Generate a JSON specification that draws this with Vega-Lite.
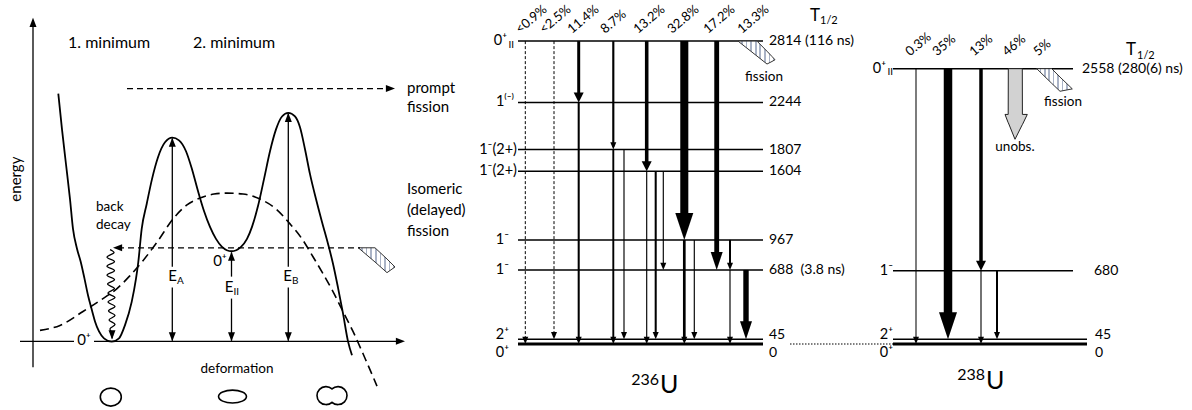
{
  "$schema": "https://vega.github.io/schema/vega-lite/v6.json",
  "width": 1192,
  "height": 410,
  "autosize": {"type": "fit", "contains": "padding"},
  "padding": 0,
  "background": "#ffffff",
  "config": {"view": {"stroke": null}, "font": "Lato"},
  "encoding": {
    "x": {"field": "x", "type": "quantitative", "scale": {"domain": [0, 1192], "nice": false, "zero": false}, "axis": null},
    "y": {"field": "E", "type": "quantitative", "scale": {"domain": [-594.4, 3196], "nice": false, "zero": false}, "axis": null}
  },
  "datasets": {
    "levels": [
      {"x": 518, "x2": 763, "E": 2814}, {"x": 518, "x2": 763, "E": 2244}, {"x": 518, "x2": 763, "E": 1807},
      {"x": 518, "x2": 763, "E": 1604}, {"x": 518, "x2": 763, "E": 967}, {"x": 518, "x2": 763, "E": 688},
      {"x": 518, "x2": 763, "E": 45}, {"x": 518, "x2": 763, "E": 0},
      {"x": 893, "x2": 1073, "E": 2558}, {"x": 893, "x2": 1073, "E": 680},
      {"x": 893, "x2": 1087, "E": 45}, {"x": 893, "x2": 1087, "E": 0}
    ],
    "gammas": [
      {"x": 525.3, "E": 2814, "E2": 0, "I": 0.9, "limit": "upper"},
      {"x": 554, "E": 2814, "E2": 45, "I": 2.5, "limit": "upper"},
      {"x": 578.7, "E": 2814, "E2": 2244, "I": 11.4, "limit": "none"},
      {"x": 578.7, "E": 2244, "E2": 0, "I": 8, "limit": "none"},
      {"x": 613.3, "E": 2814, "E2": 1807, "I": 8.7, "limit": "none"},
      {"x": 613.3, "E": 1807, "E2": 0, "I": 7, "limit": "none"},
      {"x": 624, "E": 1807, "E2": 45, "I": 1.5, "limit": "none"},
      {"x": 646.7, "E": 2814, "E2": 1604, "I": 13.2, "limit": "none"},
      {"x": 646.7, "E": 1604, "E2": 0, "I": 1.5, "limit": "none"},
      {"x": 655.7, "E": 1604, "E2": 45, "I": 8, "limit": "none"},
      {"x": 663.3, "E": 1604, "E2": 688, "I": 1.5, "limit": "none"},
      {"x": 684.3, "E": 2814, "E2": 967, "I": 32.8, "limit": "none"},
      {"x": 684.3, "E": 967, "E2": 0, "I": 10.5, "limit": "none"},
      {"x": 694.3, "E": 967, "E2": 45, "I": 1.5, "limit": "none"},
      {"x": 716.7, "E": 2814, "E2": 688, "I": 17.2, "limit": "none"},
      {"x": 730, "E": 967, "E2": 688, "I": 8, "limit": "none"},
      {"x": 730, "E": 688, "E2": 0, "I": 1.5, "limit": "none"},
      {"x": 746, "E": 688, "E2": 45, "I": 20, "limit": "none"},
      {"x": 916, "E": 2558, "E2": 0, "I": 0.3, "limit": "none"},
      {"x": 948, "E": 2558, "E2": 45, "I": 35, "limit": "none"},
      {"x": 981, "E": 2558, "E2": 680, "I": 13, "limit": "none"},
      {"x": 981, "E": 680, "E2": 0, "I": 1, "limit": "none"},
      {"x": 997, "E": 680, "E2": 45, "I": 8, "limit": "none"}
    ],
    "hatch": [
      {"g": "isomer", "x": 358.3, "E": 894, "E2": 894},
      {"g": "isomer", "x": 375, "E": 894, "E2": 762},
      {"g": "isomer", "x": 387, "E": 790, "E2": 663},
      {"g": "isomer", "x": 392, "E": 743, "E2": 696},
      {"g": "isomer", "x": 395, "E": 716, "E2": 716},
      {"g": "U236", "x": 738, "E": 2814, "E2": 2814},
      {"g": "U236", "x": 757, "E": 2814, "E2": 2675},
      {"g": "U236", "x": 767, "E": 2720, "E2": 2601},
      {"g": "U236", "x": 772, "E": 2671, "E2": 2625},
      {"g": "U236", "x": 775, "E": 2641, "E2": 2641},
      {"g": "U238", "x": 1036.7, "E": 2558, "E2": 2558},
      {"g": "U238", "x": 1051.7, "E": 2558, "E2": 2422},
      {"g": "U238", "x": 1060, "E": 2480, "E2": 2348},
      {"g": "U238", "x": 1070, "E": 2391, "E2": 2366},
      {"g": "U238", "x": 1072.3, "E": 2370, "E2": 2370}
    ],
    "unobs": [
      {"x": 1005, "E": 2133, "E2": 2133},
      {"x": 1008.2, "E": 2133, "E2": 2056},
      {"x": 1008.3, "E": 2558, "E2": 2056},
      {"x": 1015, "E": 2558, "E2": 1902},
      {"x": 1022.3, "E": 2558, "E2": 2038},
      {"x": 1022.4, "E": 2133, "E2": 2038},
      {"x": 1027.3, "E": 2133, "E2": 2133}
    ],
    "pes": [
      {"x": 58.3, "E": 2327}, {"x": 62, "E": 1994}, {"x": 66, "E": 1670}, {"x": 70, "E": 1347},
      {"x": 73, "E": 1070}, {"x": 77, "E": 885}, {"x": 80.7, "E": 764}, {"x": 84.5, "E": 607},
      {"x": 88, "E": 453}, {"x": 92, "E": 311}, {"x": 95, "E": 210}, {"x": 99, "E": 117},
      {"x": 104, "E": 53}, {"x": 111.7, "E": 22}, {"x": 119, "E": 53}, {"x": 125, "E": 176},
      {"x": 131.7, "E": 392}, {"x": 136, "E": 607}, {"x": 138.3, "E": 762}, {"x": 141.7, "E": 1070},
      {"x": 146.7, "E": 1301}, {"x": 152, "E": 1532}, {"x": 158, "E": 1735}, {"x": 165, "E": 1874},
      {"x": 172.3, "E": 1917}, {"x": 179, "E": 1892}, {"x": 186, "E": 1791}, {"x": 192, "E": 1624},
      {"x": 198, "E": 1421}, {"x": 204, "E": 1236}, {"x": 210, "E": 1088}, {"x": 216, "E": 977},
      {"x": 222, "E": 903}, {"x": 231.5, "E": 862}, {"x": 241, "E": 903}, {"x": 247, "E": 977},
      {"x": 252, "E": 1088}, {"x": 258, "E": 1282}, {"x": 264, "E": 1532}, {"x": 270, "E": 1791},
      {"x": 276, "E": 1994}, {"x": 282, "E": 2114}, {"x": 288.3, "E": 2148}, {"x": 295, "E": 2114},
      {"x": 300, "E": 2013}, {"x": 305, "E": 1809}, {"x": 310, "E": 1578}, {"x": 316, "E": 1347},
      {"x": 322, "E": 1134}, {"x": 328, "E": 931}, {"x": 333, "E": 746}, {"x": 338, "E": 524},
      {"x": 343, "E": 284}, {"x": 348, "E": 25}, {"x": 352, "E": -104}
    ],
    "liquidDrop": [
      {"x": 40, "E": 127}, {"x": 60, "E": 173}, {"x": 83, "E": 302}, {"x": 100, "E": 404},
      {"x": 117, "E": 515}, {"x": 130, "E": 635}, {"x": 143, "E": 774}, {"x": 158, "E": 959},
      {"x": 173, "E": 1162}, {"x": 187, "E": 1292}, {"x": 200, "E": 1356}, {"x": 214, "E": 1393},
      {"x": 227, "E": 1402}, {"x": 243, "E": 1393}, {"x": 260, "E": 1347}, {"x": 276, "E": 1255},
      {"x": 290, "E": 1116}, {"x": 302, "E": 977}, {"x": 313, "E": 811}, {"x": 323, "E": 654},
      {"x": 333, "E": 487}, {"x": 343, "E": 302}, {"x": 353, "E": 117}, {"x": 365, "E": -132},
      {"x": 377, "E": -391}
    ],
    "wave": [
      {"i": 0, "x": 110, "E": 876}, {"i": 1, "x": 114, "E": 848}, {"i": 2, "x": 107, "E": 806},
      {"i": 3, "x": 114.5, "E": 765}, {"i": 4, "x": 107, "E": 723}, {"i": 5, "x": 114.5, "E": 681},
      {"i": 6, "x": 107, "E": 640}, {"i": 7, "x": 114.5, "E": 598}, {"i": 8, "x": 107.5, "E": 557},
      {"i": 9, "x": 114.5, "E": 515}, {"i": 10, "x": 108, "E": 473}, {"i": 11, "x": 115, "E": 432},
      {"i": 12, "x": 108, "E": 390}, {"i": 13, "x": 115, "E": 349}, {"i": 14, "x": 108.5, "E": 307},
      {"i": 15, "x": 115, "E": 265}, {"i": 16, "x": 109, "E": 224}, {"i": 17, "x": 115, "E": 182},
      {"i": 18, "x": 110, "E": 141}, {"i": 19, "x": 112.5, "E": 99}, {"i": 20, "x": 112, "E": 53}
    ],
    "solid": [
      {"x": 33, "E": -215, "x2": 33, "E2": 3011},
      {"x": 20, "E": 25, "x2": 74, "E2": 25},
      {"x": 94, "E": 25, "x2": 400, "E2": 25},
      {"x": 172.3, "E": 1910, "x2": 172.3, "E2": 718},
      {"x": 172.3, "E": 524, "x2": 172.3, "E2": 30},
      {"x": 231.5, "E": 850, "x2": 231.5, "E2": 626},
      {"x": 231.5, "E": 422, "x2": 231.5, "E2": 30},
      {"x": 288.3, "E": 2140, "x2": 288.3, "E2": 718},
      {"x": 288.3, "E": 524, "x2": 288.3, "E2": 30}
    ],
    "dashed": [
      {"x": 127, "E": 2373, "x2": 390, "E2": 2373},
      {"x": 118, "E": 894, "x2": 360, "E2": 894}
    ],
    "dotted": [{"x": 790, "E": 0, "x2": 893, "E2": 0}],
    "tips": [
      {"x": 33, "E": 3030, "a": 180}, {"x": 405, "E": 25, "a": 270}, {"x": 395, "E": 2373, "a": 270},
      {"x": 113, "E": 894, "a": 90}, {"x": 112, "E": 43, "a": 0},
      {"x": 172.3, "E": 1917, "a": 180}, {"x": 172.3, "E": 25, "a": 0},
      {"x": 231.5, "E": 857, "a": 180}, {"x": 231.5, "E": 25, "a": 0},
      {"x": 288.3, "E": 2148, "a": 180}, {"x": 288.3, "E": 25, "a": 0}
    ],
    "shapes": [
      {"x": 110.8, "E": -493, "k": "sphere"},
      {"x": 232.5, "E": -488, "k": "spheroid"},
      {"x": 332, "E": -479, "k": "scission"}
    ],
    "pct": [
      {"x": 520, "E": 2880, "t": "<0.9%"}, {"x": 544, "E": 2880, "t": "<2.5%"}, {"x": 572, "E": 2880, "t": "11.4%"},
      {"x": 605, "E": 2880, "t": "8.7%"}, {"x": 638, "E": 2880, "t": "13.2%"}, {"x": 672, "E": 2880, "t": "32.8%"},
      {"x": 708, "E": 2880, "t": "17.2%"}, {"x": 742, "E": 2880, "t": "13.3%"},
      {"x": 910, "E": 2670, "t": "0.3%"}, {"x": 937, "E": 2670, "t": "35%"}, {"x": 974, "E": 2670, "t": "13%"},
      {"x": 1007, "E": 2670, "t": "46%"}, {"x": 1038, "E": 2670, "t": "5%"}
    ],
    "elab": [
      {"x": 769, "E": 2814, "t": "2814 (116 ns)"}, {"x": 769, "E": 2244, "t": "2244"}, {"x": 769, "E": 1807, "t": "1807"},
      {"x": 769, "E": 1604, "t": "1604"}, {"x": 769, "E": 967, "t": "967"}, {"x": 769, "E": 688, "t": "688 \u00a0(3.8 ns)"},
      {"x": 769, "E": 80, "t": "45"}, {"x": 769, "E": -80, "t": "0"},
      {"x": 1082, "E": 2558, "t": "2558 (280(6) ns)"}, {"x": 1094, "E": 680, "t": "680"},
      {"x": 1095, "E": 80, "t": "45"}, {"x": 1095, "E": -80, "t": "0"}
    ],
    "jlab": [
      {"x": 507, "E": 2814, "t": "0⁺"}, {"x": 514, "E": 2244, "t": "1⁽⁻⁾"}, {"x": 517, "E": 1807, "t": "1⁻(2+)"},
      {"x": 517, "E": 1604, "t": "1⁻(2+)"}, {"x": 509, "E": 967, "t": "1⁻"}, {"x": 509, "E": 688, "t": "1⁻"},
      {"x": 509, "E": 80, "t": "2⁺"}, {"x": 509, "E": -80, "t": "0⁺"},
      {"x": 886, "E": 2558, "t": "0⁺"}, {"x": 893, "E": 680, "t": "1⁻"}, {"x": 893, "E": 80, "t": "2⁺"}, {"x": 893, "E": -80, "t": "0⁺"}
    ],
    "sub": [
      {"x": 508.5, "E": 2781, "t": "II"}, {"x": 887.5, "E": 2523, "t": "II"},
      {"x": 177, "E": 589, "t": "A"}, {"x": 233.5, "E": 487, "t": "II"}, {"x": 292, "E": 589, "t": "B"}
    ],
    "half": [{"x": 820, "E": 3003, "t": "1/2"}, {"x": 1137, "E": 2678, "t": "1/2"}],
    "tee": [{"x": 810, "E": 3045, "t": "T"}, {"x": 1126, "E": 2729, "t": "T"}],
    "title16": [{"x": 68, "E": 2798, "t": "1. minimum"}, {"x": 193, "E": 2798, "t": "2. minimum"}],
    "notes": [
      {"x": 407, "E": 2336, "t": "prompt"}, {"x": 407, "E": 2151, "t": "fission"},
      {"x": 407, "E": 1393, "t": "Isomeric"}, {"x": 407, "E": 1199, "t": "(delayed)"}, {"x": 407, "E": 1005, "t": "fission"}
    ],
    "back": [{"x": 96, "E": 1236, "t": "back"}, {"x": 96, "E": 1070, "t": "decay"}],
    "centred": [
      {"x": 237, "E": -234, "t": "deformation"}, {"x": 764, "E": 2484, "t": "fission"},
      {"x": 1063, "E": 2244, "t": "fission"}, {"x": 1015, "E": 1828, "t": "unobs."}
    ],
    "sym": [
      {"x": 172.5, "E": 635, "t": "E"}, {"x": 229, "E": 533, "t": "E"}, {"x": 287.5, "E": 635, "t": "E"},
      {"x": 84, "E": 34, "t": "0⁺"}, {"x": 220, "E": 770, "t": "0⁺"}
    ],
    "mass": [{"x": 659, "E": -381, "t": "236"}, {"x": 985, "E": -336, "t": "238"}],
    "elem": [{"x": 660, "E": -456, "t": "U"}, {"x": 986, "E": -419, "t": "U"}],
    "ytitle": [{"x": 16, "E": 1532, "t": "energy"}]
  },
  "layer": [
    {
      "data": {"name": "levels"},
      "transform": [{"filter": "datum.E != 0"}],
      "mark": {"type": "rule", "color": "#000000", "strokeWidth": 1.5},
      "encoding": {"x2": {"field": "x2"}}
    },
    {
      "data": {"name": "levels"},
      "transform": [{"filter": "datum.E == 0"}],
      "mark": {"type": "rule", "color": "#000000", "strokeWidth": 3},
      "encoding": {"x2": {"field": "x2"}}
    },
    {
      "data": {"name": "dotted"},
      "mark": {"type": "rule", "color": "#000000", "strokeWidth": 1.2, "strokeDash": [1.5, 1.5]},
      "encoding": {"x2": {"field": "x2"}}
    },
    {
      "data": {"name": "hatch"},
      "mark": {
        "type": "area", "opacity": 1, "stroke": "#333333", "strokeWidth": 1,
        "fill": {
          "gradient": "linear", "x1": 0, "y1": 0, "x2": 1, "y2": 0,
          "stops": [
            {"offset": 0, "color": "#ffffff"}, {"offset": 0.08, "color": "#ffffff"}, {"offset": 0.08, "color": "#aab3c6"}, {"offset": 0.125, "color": "#aab3c6"},
            {"offset": 0.125, "color": "#ffffff"}, {"offset": 0.205, "color": "#ffffff"}, {"offset": 0.205, "color": "#aab3c6"}, {"offset": 0.25, "color": "#aab3c6"},
            {"offset": 0.25, "color": "#ffffff"}, {"offset": 0.33, "color": "#ffffff"}, {"offset": 0.33, "color": "#aab3c6"}, {"offset": 0.375, "color": "#aab3c6"},
            {"offset": 0.375, "color": "#ffffff"}, {"offset": 0.455, "color": "#ffffff"}, {"offset": 0.455, "color": "#aab3c6"}, {"offset": 0.5, "color": "#aab3c6"},
            {"offset": 0.5, "color": "#ffffff"}, {"offset": 0.58, "color": "#ffffff"}, {"offset": 0.58, "color": "#aab3c6"}, {"offset": 0.625, "color": "#aab3c6"},
            {"offset": 0.625, "color": "#ffffff"}, {"offset": 0.705, "color": "#ffffff"}, {"offset": 0.705, "color": "#aab3c6"}, {"offset": 0.75, "color": "#aab3c6"},
            {"offset": 0.75, "color": "#ffffff"}, {"offset": 0.83, "color": "#ffffff"}, {"offset": 0.83, "color": "#aab3c6"}, {"offset": 0.875, "color": "#aab3c6"},
            {"offset": 0.875, "color": "#ffffff"}, {"offset": 0.955, "color": "#ffffff"}, {"offset": 0.955, "color": "#aab3c6"}, {"offset": 1, "color": "#aab3c6"}
          ]
        }
      },
      "encoding": {"y2": {"field": "E2"}, "detail": {"field": "g", "type": "nominal"}}
    },
    {
      "data": {"name": "unobs"},
      "mark": {"type": "area", "opacity": 1, "fill": "#d2d2d2", "stroke": "#222222", "strokeWidth": 1},
      "encoding": {"y2": {"field": "E2"}}
    },
    {
      "data": {"name": "gammas"},
      "transform": [{"filter": "datum.limit == 'upper'"}],
      "mark": {"type": "rule", "color": "#000000", "strokeWidth": 1, "strokeDash": [3, 2], "y2Offset": -3},
      "encoding": {"y2": {"field": "E2"}}
    },
    {
      "data": {"name": "gammas"},
      "transform": [{"filter": "datum.limit != 'upper' && datum.I < 11"}],
      "mark": {"type": "rule", "color": "#000000", "strokeCap": "butt", "y2Offset": -3},
      "encoding": {
        "y2": {"field": "E2"},
        "strokeWidth": {"field": "I", "type": "quantitative", "scale": {"type": "linear", "domain": [0, 2, 9, 13, 17, 35], "range": [1, 1.2, 2.2, 3.5, 4.8, 8.5]}, "legend": null}
      }
    },
    {
      "data": {"name": "gammas"},
      "transform": [{"filter": "datum.I >= 11 && datum.I < 15"}],
      "mark": {"type": "rule", "color": "#000000", "strokeCap": "butt", "y2Offset": -5},
      "encoding": {
        "y2": {"field": "E2"},
        "strokeWidth": {"field": "I", "type": "quantitative", "scale": {"type": "linear", "domain": [0, 2, 9, 13, 17, 35], "range": [1, 1.2, 2.2, 3.5, 4.8, 8.5]}, "legend": null}
      }
    },
    {
      "data": {"name": "gammas"},
      "transform": [{"filter": "datum.I >= 15 && datum.I < 30"}],
      "mark": {"type": "rule", "color": "#000000", "strokeCap": "butt", "y2Offset": -10},
      "encoding": {
        "y2": {"field": "E2"},
        "strokeWidth": {"field": "I", "type": "quantitative", "scale": {"type": "linear", "domain": [0, 2, 9, 13, 17, 35], "range": [1, 1.2, 2.2, 3.5, 4.8, 8.5]}, "legend": null}
      }
    },
    {
      "data": {"name": "gammas"},
      "transform": [{"filter": "datum.I >= 30"}],
      "mark": {"type": "rule", "color": "#000000", "strokeCap": "butt", "y2Offset": -18},
      "encoding": {
        "y2": {"field": "E2"},
        "strokeWidth": {"field": "I", "type": "quantitative", "scale": {"type": "linear", "domain": [0, 2, 9, 13, 17, 35], "range": [1, 1.2, 2.2, 3.5, 4.8, 8.5]}, "legend": null}
      }
    },
    {
      "data": {"name": "gammas"},
      "transform": [{"filter": "datum.I < 11"}],
      "mark": {"type": "point", "shape": "M -1 -2.4 L 1 -2.4 L 0 0 Z", "size": 36, "filled": true, "color": "#000000", "opacity": 1, "strokeWidth": 0},
      "encoding": {"y": {"field": "E2", "type": "quantitative", "scale": {"domain": [-594.4, 3196], "nice": false, "zero": false}, "axis": null}}
    },
    {
      "data": {"name": "gammas"},
      "transform": [{"filter": "datum.I >= 11 && datum.I < 15"}],
      "mark": {"type": "point", "shape": "M -1 -2 L 1 -2 L 0 0 Z", "size": 100, "filled": true, "color": "#000000", "opacity": 1, "strokeWidth": 0},
      "encoding": {"y": {"field": "E2", "type": "quantitative", "scale": {"domain": [-594.4, 3196], "nice": false, "zero": false}, "axis": null}}
    },
    {
      "data": {"name": "gammas"},
      "transform": [{"filter": "datum.I >= 15 && datum.I < 30"}],
      "mark": {"type": "point", "shape": "M -1 -3 L 1 -3 L 0 0 Z", "size": 144, "filled": true, "color": "#000000", "opacity": 1, "strokeWidth": 0},
      "encoding": {"y": {"field": "E2", "type": "quantitative", "scale": {"domain": [-594.4, 3196], "nice": false, "zero": false}, "axis": null}}
    },
    {
      "data": {"name": "gammas"},
      "transform": [{"filter": "datum.I >= 30"}],
      "mark": {"type": "point", "shape": "M -1 -3 L 1 -3 L 0 0 Z", "size": 324, "filled": true, "color": "#000000", "opacity": 1, "strokeWidth": 0},
      "encoding": {"y": {"field": "E2", "type": "quantitative", "scale": {"domain": [-594.4, 3196], "nice": false, "zero": false}, "axis": null}}
    },
    {
      "data": {"name": "pes"},
      "mark": {"type": "line", "color": "#000000", "strokeWidth": 1.8, "interpolate": "monotone"},
      "encoding": {}
    },
    {
      "data": {"name": "liquidDrop"},
      "mark": {"type": "line", "color": "#000000", "strokeWidth": 1.6, "strokeDash": [9, 5], "interpolate": "monotone"},
      "encoding": {}
    },
    {
      "data": {"name": "wave"},
      "mark": {"type": "line", "color": "#000000", "strokeWidth": 1.3, "interpolate": "cardinal"},
      "encoding": {"order": {"field": "i", "type": "quantitative"}}
    },
    {
      "data": {"name": "solid"},
      "mark": {"type": "rule", "color": "#000000", "strokeWidth": 1.3},
      "encoding": {"x2": {"field": "x2"}, "y2": {"field": "E2"}}
    },
    {
      "data": {"name": "dashed"},
      "mark": {"type": "rule", "color": "#000000", "strokeWidth": 1.3, "strokeDash": [6, 4]},
      "encoding": {"x2": {"field": "x2"}, "y2": {"field": "E2"}}
    },
    {
      "data": {"name": "tips"},
      "mark": {"type": "point", "shape": "M -1 -2.6 L 1 -2.6 L 0 0 Z", "size": 49, "filled": true, "color": "#000000", "opacity": 1, "strokeWidth": 0},
      "encoding": {"angle": {"field": "a", "type": "quantitative", "scale": null}}
    },
    {
      "data": {"name": "shapes"},
      "mark": {"type": "point", "filled": false, "color": "#000000", "opacity": 1, "strokeWidth": 1.6, "size": 900},
      "encoding": {
        "shape": {
          "field": "k", "type": "nominal", "legend": null,
          "scale": {
            "domain": ["sphere", "spheroid", "scission"],
            "range": [
              "M -0.7 0 A 0.7 0.6 0 1 1 0.7 0 A 0.7 0.6 0 1 1 -0.7 0 Z",
              "M -0.93 0 A 0.93 0.43 0 1 1 0.93 0 A 0.93 0.43 0 1 1 -0.93 0 Z",
              "M 0 -0.447 A 0.6 0.6 0 1 0 0 0.447 A 0.6 0.6 0 1 0 0 -0.447 Z"
            ]
          }
        }
      }
    },
    {
      "data": {"name": "pct"},
      "mark": {"type": "text", "align": "left", "baseline": "alphabetic", "angle": -40, "fontSize": 13, "color": "#000000"},
      "encoding": {"text": {"field": "t", "type": "nominal"}}
    },
    {
      "data": {"name": "elab"},
      "mark": {"type": "text", "align": "left", "baseline": "middle", "fontSize": 14, "color": "#000000"},
      "encoding": {"text": {"field": "t", "type": "nominal"}}
    },
    {
      "data": {"name": "jlab"},
      "mark": {"type": "text", "align": "right", "baseline": "middle", "fontSize": 14.5, "color": "#000000"},
      "encoding": {"text": {"field": "t", "type": "nominal"}}
    },
    {
      "data": {"name": "sub"},
      "mark": {"type": "text", "align": "left", "baseline": "middle", "fontSize": 10, "color": "#000000"},
      "encoding": {"text": {"field": "t", "type": "nominal"}}
    },
    {
      "data": {"name": "half"},
      "mark": {"type": "text", "align": "left", "baseline": "middle", "fontSize": 11, "color": "#000000"},
      "encoding": {"text": {"field": "t", "type": "nominal"}}
    },
    {
      "data": {"name": "tee"},
      "mark": {"type": "text", "align": "left", "baseline": "middle", "fontSize": 17, "color": "#000000"},
      "encoding": {"text": {"field": "t", "type": "nominal"}}
    },
    {
      "data": {"name": "title16"},
      "mark": {"type": "text", "align": "left", "baseline": "middle", "fontSize": 16, "color": "#000000"},
      "encoding": {"text": {"field": "t", "type": "nominal"}}
    },
    {
      "data": {"name": "notes"},
      "mark": {"type": "text", "align": "left", "baseline": "alphabetic", "fontSize": 15, "color": "#000000"},
      "encoding": {"text": {"field": "t", "type": "nominal"}}
    },
    {
      "data": {"name": "back"},
      "mark": {"type": "text", "align": "left", "baseline": "alphabetic", "fontSize": 13.5, "color": "#000000"},
      "encoding": {"text": {"field": "t", "type": "nominal"}}
    },
    {
      "data": {"name": "centred"},
      "mark": {"type": "text", "align": "center", "baseline": "middle", "fontSize": 13.5, "color": "#000000"},
      "encoding": {"text": {"field": "t", "type": "nominal"}}
    },
    {
      "data": {"name": "sym"},
      "mark": {"type": "text", "align": "center", "baseline": "middle", "fontSize": 15, "color": "#000000"},
      "encoding": {"text": {"field": "t", "type": "nominal"}}
    },
    {
      "data": {"name": "mass"},
      "mark": {"type": "text", "align": "right", "baseline": "alphabetic", "fontSize": 16, "color": "#000000"},
      "encoding": {"text": {"field": "t", "type": "nominal"}}
    },
    {
      "data": {"name": "elem"},
      "mark": {"type": "text", "align": "left", "baseline": "alphabetic", "fontSize": 25, "color": "#000000"},
      "encoding": {"text": {"field": "t", "type": "nominal"}}
    },
    {
      "data": {"name": "ytitle"},
      "mark": {"type": "text", "align": "center", "baseline": "middle", "fontSize": 15, "angle": 270, "color": "#000000"},
      "encoding": {"text": {"field": "t", "type": "nominal"}}
    }
  ]
}
